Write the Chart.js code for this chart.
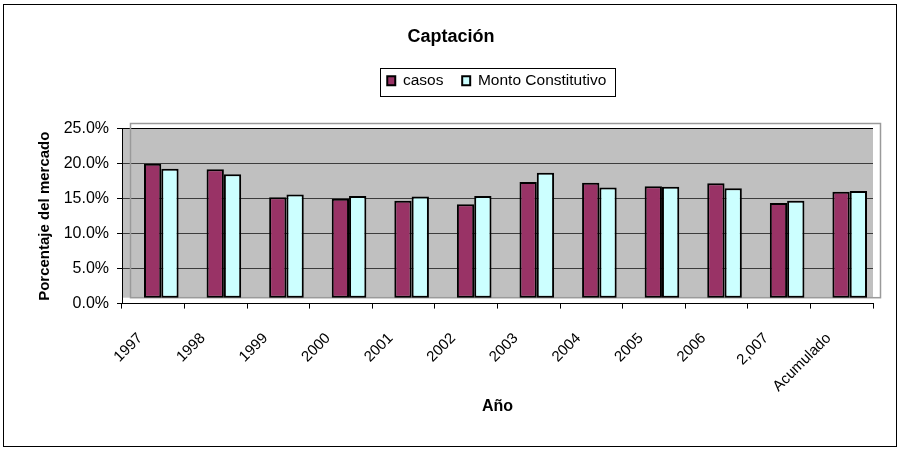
<!DOCTYPE html>
<html>
<head>
<meta charset="utf-8">
<script src="https://cdn.jsdelivr.net/npm/chart.js@4.4.1/dist/chart.umd.min.js"></script>
<style>
  html, body { margin: 0; padding: 0; background: #fff; }
  #wrap { width: 902px; height: 450px; }
</style>
</head>
<body>
<div id="wrap"><canvas id="c"></canvas></div>
<script>
// chart values (percent of market)
const years = ["1997", "1998", "1999", "2000", "2001", "2002", "2003", "2004", "2005", "2006", "2,007", "Acumulado"];
const casos = [20.0, 19.2, 15.2, 15.0, 14.7, 14.2, 17.4, 17.3, 16.8, 17.2, 14.4, 16.0];
const monto = [19.3, 18.5, 15.6, 15.4, 15.3, 15.4, 18.7, 16.6, 16.7, 16.5, 14.7, 16.1];
const yMin = 0, yMax = 25, yStep = 5;

const FONT = "'Liberation Sans', Arial, sans-serif";
Chart.defaults.font.family = FONT;
Chart.defaults.color = "#000";

// excel 3d look: wall, frame, bar depth shift, legend frame
const depthX = 8;
const floorGap = 5.9;
const legendLift = 30.3;
const legendTextLeft = 403;

const excelLook = {
  id: "excelLook",
  afterLayout(chart) {
    const lg = chart.legend;
    if (!lg || !lg.lineWidths) return;
    const o = lg.options.labels;
    const start = (lg.left + o.padding + lg.right - lg.lineWidths[0]) / 2;
    const dx = legendTextLeft - (start + o.boxWidth + o.font.size / 2);
    lg.left += dx; lg.right += dx;
    lg.top -= legendLift; lg.bottom -= legendLift;
  },
  beforeDraw(chart) {
    const {ctx, chartArea: ca} = chart;
    ctx.save();
    ctx.fillStyle = "#c0c0c0";
    ctx.fillRect(ca.left, ca.top, ca.right - ca.left, ca.bottom - floorGap - ca.top);
    ctx.restore();
  },
  beforeDatasetsDraw(chart) {
    const {ctx, chartArea: ca} = chart;
    ctx.save();
    ctx.strokeStyle = "#9a9a9a";
    ctx.lineWidth = 1.5;
    ctx.strokeRect(ca.left + depthX + 0.5, ca.top - 5.3, ca.right - ca.left - 1, ca.bottom - floorGap - ca.top + 5.3);
    ctx.restore();
    ctx.save();
    ctx.translate(depthX, 0);
  },
  afterDatasetsDraw(chart) {
    chart.ctx.restore();
  },
  afterDraw(chart) {
    const ctx = chart.ctx;
    const hb = chart.legend.legendHitBoxes;
    ctx.save();
    ctx.strokeStyle = "#000";
    ctx.lineWidth = 1;
    if (hb && hb.length) {
      const last = hb[hb.length - 1];
      const l = Math.round(hb[0].left - 7) + 0.5;
      const r = Math.round(last.left + last.width + 9) + 0.5;
      const t = Math.round(hb[0].top - 5.3) + 0.5;
      const b = Math.round(hb[0].top + hb[0].height + 7) + 0.5;
      ctx.strokeRect(l, t, r - l, b - t);
    }
    ctx.strokeRect(3.5, 4.5, 893, 442);
    ctx.restore();
  }
};

new Chart(document.getElementById("c"), {
  type: "bar",
  data: {
    labels: years,
    datasets: [
      {
        label: "casos",
        data: casos,
        backgroundColor: "#993366",
        borderColor: "#000",
        borderWidth: 2,
        borderSkipped: false,
        base: 0.85,
        barPercentage: 1,
        categoryPercentage: 0.553
      },
      {
        label: "Monto Constitutivo",
        data: monto,
        backgroundColor: "#ccffff",
        borderColor: "#000",
        borderWidth: 2,
        borderSkipped: false,
        base: 0.85,
        barPercentage: 1,
        categoryPercentage: 0.553
      }
    ]
  },
  options: {
    responsive: true,
    maintainAspectRatio: false,
    animation: false,
    layout: { padding: { top: 10, left: 29, right: 29, bottom: 24 } },
    plugins: {
      title: {
        display: true,
        text: "Captación",
        color: "#000",
        font: { size: 18, weight: "bold" },
        padding: { top: 16, bottom: 37 }
      },
      legend: {
        position: "top",
        labels: {
          color: "#000",
          font: { size: 15.5 },
          boxWidth: 8,
          boxHeight: 9,
          padding: 18.7
        }
      },
      tooltip: { enabled: false }
    },
    scales: {
      x: {
        grid: { display: true, drawOnChartArea: false, drawTicks: true, tickLength: 5, color: "#000", offset: true },
        border: { display: true, color: "#000" },
        ticks: { color: "#000", font: { size: 15 }, maxRotation: 45, minRotation: 45, autoSkip: false, padding: 21, labelOffset: -13 },
        title: {
          display: true,
          text: "Año",
          color: "#000",
          font: { size: 16, weight: "bold" },
          padding: { top: 0, bottom: 9.4 }
        },
        afterFit: s => { s.height = 122.4; }
      },
      y: {
        min: yMin,
        max: yMax,
        ticks: {
          stepSize: yStep,
          color: "#000",
          font: { size: 16 },
          padding: 8,
          callback: v => v.toFixed(1) + "%"
        },
        grid: {
          color: c => c.tick.value === yMax ? "#000" : (c.tick.value === yMin ? "rgba(0,0,0,0)" : "#3c3c3c"),
          tickColor: "#000",
          tickLength: 5,
          lineWidth: 1
        },
        border: { display: true, color: "#000" },
        title: {
          display: true,
          text: "Porcentaje del mercado",
          color: "#000",
          font: { size: 15, weight: "bold" },
          padding: { top: 7, bottom: 0 }
        },
        afterFit: s => { s.width = 93; }
      }
    }
  },
  plugins: [excelLook]
});
</script>
</body>
</html>
